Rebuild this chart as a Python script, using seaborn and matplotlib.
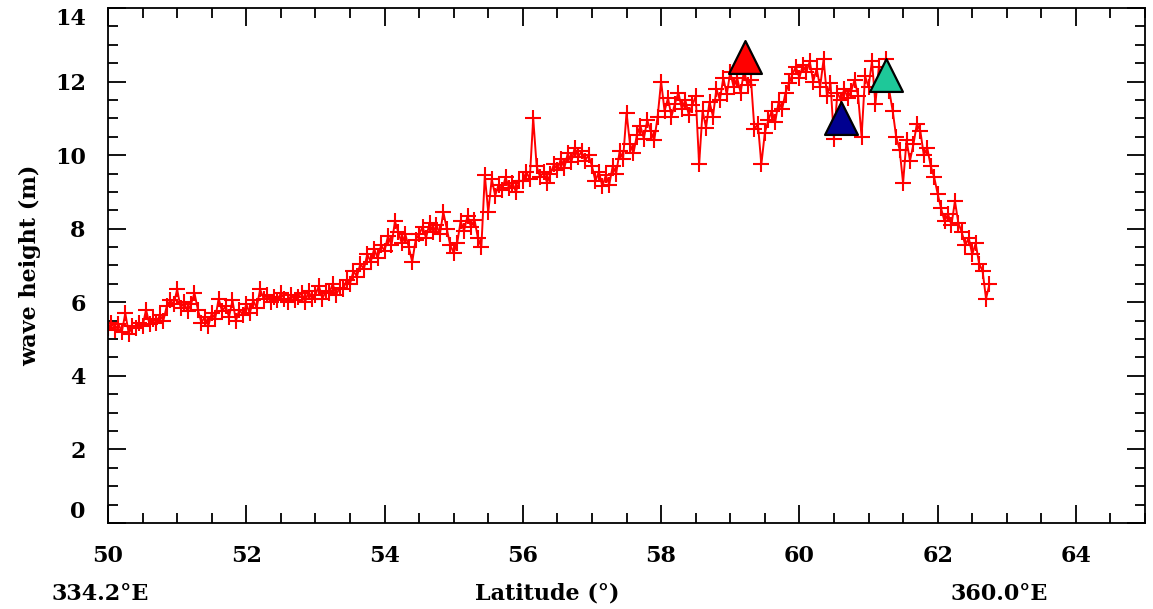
import numpy as np
import pandas as pd
import matplotlib
matplotlib.use("Agg")
import matplotlib.pyplot as plt
from matplotlib.ticker import MultipleLocator
import seaborn as sns

# along-track latitude (deg) and significant wave height (m)
lat = [
    50.00, 50.05, 50.10, 50.15, 50.20, 50.25, 50.30, 50.35, 50.40, 50.45,
    50.50, 50.55, 50.60, 50.65, 50.70, 50.75, 50.80, 50.85, 50.90, 50.95,
    51.00, 51.05, 51.10, 51.15, 51.20, 51.25, 51.30, 51.35, 51.40, 51.45,
    51.50, 51.55, 51.60, 51.65, 51.70, 51.75, 51.80, 51.85, 51.90, 51.95,
    52.00, 52.05, 52.10, 52.15, 52.20, 52.25, 52.30, 52.35, 52.40, 52.45,
    52.50, 52.55, 52.60, 52.65, 52.70, 52.75, 52.80, 52.85, 52.90, 52.95,
    53.00, 53.05, 53.10, 53.15, 53.20, 53.25, 53.30, 53.35, 53.40, 53.45,
    53.50, 53.55, 53.60, 53.65, 53.70, 53.75, 53.80, 53.85, 53.90, 53.95,
    54.00, 54.05, 54.10, 54.15, 54.20, 54.25, 54.30, 54.35, 54.40, 54.45,
    54.50, 54.55, 54.60, 54.65, 54.70, 54.75, 54.80, 54.85, 54.90, 54.95,
    55.00, 55.05, 55.10, 55.15, 55.20, 55.25, 55.30, 55.35, 55.40, 55.45,
    55.50, 55.55, 55.60, 55.65, 55.70, 55.75, 55.80, 55.85, 55.90, 55.95,
    56.00, 56.05, 56.10, 56.15, 56.20, 56.25, 56.30, 56.35, 56.40, 56.45,
    56.50, 56.55, 56.60, 56.65, 56.70, 56.75, 56.80, 56.85, 56.90, 56.95,
    57.00, 57.05, 57.10, 57.15, 57.20, 57.25, 57.30, 57.35, 57.40, 57.45,
    57.50, 57.55, 57.60, 57.65, 57.70, 57.75, 57.80, 57.85, 57.90, 57.95,
    58.00, 58.05, 58.10, 58.15, 58.20, 58.25, 58.30, 58.35, 58.40, 58.45,
    58.50, 58.55, 58.60, 58.65, 58.70, 58.75, 58.80, 58.85, 58.90, 58.95,
    59.00, 59.05, 59.10, 59.15, 59.20, 59.25, 59.30, 59.35, 59.40, 59.45,
    59.50, 59.55, 59.60, 59.65, 59.70, 59.75, 59.80, 59.85, 59.90, 59.95,
    60.00, 60.05, 60.10, 60.15, 60.20, 60.25, 60.30, 60.35, 60.40, 60.45,
    60.50, 60.55, 60.60, 60.65, 60.70, 60.75, 60.80, 60.85, 60.90, 60.95,
    61.00, 61.05, 61.10, 61.15, 61.20, 61.25, 61.30, 61.35, 61.40, 61.45,
    61.50, 61.55, 61.60, 61.65, 61.70, 61.75, 61.80, 61.85, 61.90, 61.95,
    62.00, 62.05, 62.10, 62.15, 62.20, 62.25, 62.30, 62.35, 62.40, 62.45,
    62.50, 62.55, 62.60, 62.65, 62.70, 62.75,
]
swh = [
    5.30, 5.45, 5.25, 5.40, 5.20, 5.70, 5.15, 5.35, 5.30, 5.45,
    5.35, 5.80, 5.40, 5.55, 5.45, 5.65, 5.50, 5.90, 6.05, 5.95,
    6.35, 5.85, 6.00, 5.75, 5.95, 6.25, 5.80, 5.45, 5.60, 5.35,
    5.70, 5.55, 6.10, 5.75, 5.90, 5.60, 6.05, 5.50, 5.80, 5.65,
    5.95, 5.70, 6.05, 5.85, 6.35, 6.10, 6.20, 6.00, 6.15, 6.05,
    6.25, 6.10, 6.00, 6.20, 6.05, 6.15, 6.25, 6.00, 6.30, 6.10,
    6.20, 6.45, 6.10, 6.30, 6.25, 6.50, 6.20, 6.40, 6.35, 6.60,
    6.50, 6.85, 6.70, 7.05, 6.90, 7.30, 7.10, 7.45, 7.20, 7.55,
    7.40, 7.80, 7.55, 8.20, 7.90, 7.60, 7.85, 7.50, 7.10, 7.70,
    7.85, 8.05, 7.75, 8.15, 7.90, 8.10, 7.85, 8.45, 8.00, 7.55,
    7.35, 7.60, 8.20, 7.95, 8.35, 8.05, 8.25, 7.75, 7.50, 9.45,
    8.45, 9.35, 8.90, 9.20, 9.05, 9.40, 9.10, 9.25, 9.00, 9.30,
    9.30, 9.55, 9.35, 11.00, 9.70, 9.40, 9.55, 9.25, 9.50, 9.75,
    9.60, 9.90, 9.65, 10.05, 9.80, 10.20, 9.95, 10.10, 9.85, 10.00,
    9.70, 9.30, 9.55, 9.15, 9.45, 9.20, 9.70, 9.50, 10.10, 9.90,
    11.15, 10.30, 10.05, 10.55, 10.80, 10.45, 10.95, 10.65, 10.40, 11.05,
    12.00, 11.20, 11.55, 11.05, 11.40, 11.70, 11.25, 11.50, 11.10, 11.35,
    11.60, 9.75, 11.20, 10.75, 11.45, 11.05, 11.80, 11.50, 12.10, 11.65,
    12.25, 11.85, 12.10, 11.70, 12.30, 11.90, 12.05, 10.70, 10.85, 9.75,
    10.60, 10.95, 11.20, 10.90, 11.45, 11.25, 11.70, 11.95, 12.20, 12.40,
    12.10, 12.45, 12.25, 12.55, 12.00, 12.35, 11.85, 12.60, 11.60, 11.95,
    10.45, 11.70, 11.50, 11.80, 11.55, 11.75, 12.05, 11.60, 10.50, 12.15,
    11.85, 12.55, 11.40, 12.40, 11.90, 12.60, 11.75, 11.20, 10.50, 10.15,
    9.25, 10.40, 9.85, 10.30, 10.85, 10.65, 10.00, 10.20, 9.70, 9.40,
    8.95, 8.55, 8.20, 8.40, 8.10, 8.75, 8.15, 7.90, 7.55, 7.75,
    7.30, 7.60, 7.05, 6.85, 6.10, 6.50,
]

# buoy / model comparison markers
mark_lat = [59.22, 60.60, 61.25]
mark_swh = [12.66, 11.00, 12.17]
mark_col = ["#ff0000", "#000090", "#1ec899"]

df = pd.DataFrame({"lat": lat, "swh": swh})

sns.set_style("ticks")
plt.rcParams["font.family"] = ["DejaVu Serif"]
plt.rcParams["text.color"] = "black"
plt.rcParams["axes.labelcolor"] = "black"
plt.rcParams["xtick.color"] = "black"
plt.rcParams["ytick.color"] = "black"

fig = plt.figure(figsize=(11.53, 6.09), dpi=100)
ax = fig.add_axes([0.0937, 0.1412, 0.8994, 0.8457])

sns.lineplot(data=df, x="lat", y="swh", sort=False, estimator=None, ax=ax,
             color="red", linewidth=1.4, marker="+", markersize=12,
             markeredgewidth=1.5, markeredgecolor="red")
for la, h, c in zip(mark_lat, mark_swh, mark_col):
    sns.scatterplot(x=[la], y=[h], marker="^", s=560, color=c,
                    edgecolor="black", linewidth=1.6, ax=ax, zorder=5)

ax.set_xlim(50, 65)
ax.set_ylim(0, 14)
ax.xaxis.set_major_locator(MultipleLocator(2))
ax.xaxis.set_minor_locator(MultipleLocator(0.5))
ax.yaxis.set_major_locator(MultipleLocator(2))
ax.yaxis.set_minor_locator(MultipleLocator(0.5))
ax.tick_params(which="both", direction="in", top=True, right=True,
               width=1.3, color="black", labelcolor="black")
ax.tick_params(which="major", length=13, labelsize=16, pad=16)
ax.tick_params(which="minor", length=7)
for s in ax.spines.values():
    s.set_linewidth(1.3)
    s.set_color("black")

ax.set_xlabel("")
ax.set_ylabel("wave height (m)", fontsize=16, fontweight="bold", labelpad=10)

fig.canvas.draw()
for t in ax.xaxis.get_major_ticks() + ax.yaxis.get_major_ticks():
    t.label1.set_fontweight("bold")
# end labels of the y axis are kept inside the frame
for t in ax.yaxis.get_major_ticks():
    if abs(t.get_loc() - 0) < 1e-6:
        t.label1.set_va("bottom")
    elif abs(t.get_loc() - 14) < 1e-6:
        t.label1.set_va("top")

fig.text(0.087, 0.025, "334.2°E", ha="center", va="center", fontsize=16,
         fontweight="bold")
fig.text(0.475, 0.025, "Latitude (°)", ha="center", va="center", fontsize=16,
         fontweight="bold")
fig.text(0.867, 0.025, "360.0°E", ha="center", va="center", fontsize=16,
         fontweight="bold")

fig.savefig("out.png", dpi=100)
